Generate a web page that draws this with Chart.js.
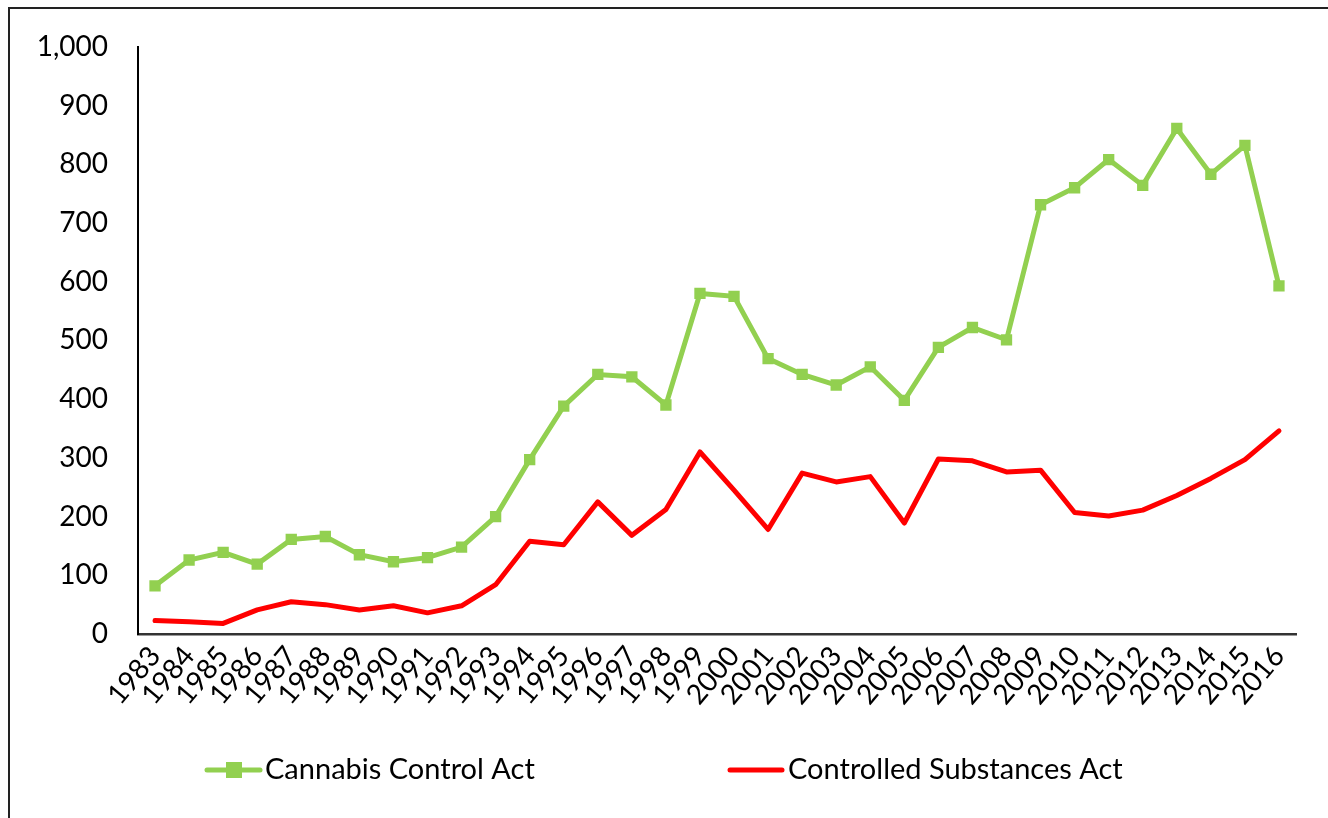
<!DOCTYPE html>
<html>
<head>
<meta charset="utf-8">
<script src="https://cdn.jsdelivr.net/npm/chart.js@4"></script>
<style>
  html, body { margin: 0; padding: 0; background: #fff; overflow: hidden; }
  #wrap { position: relative; width: 1328px; height: 818px; }
  #frame { position: absolute; left: 8px; top: 7px; width: 1400px; height: 900px; border: 2px solid #222; box-sizing: border-box; pointer-events: none; }
  canvas { position: absolute; left: 0; top: 0; }
</style>
</head>
<body>
<div id="wrap">
  <canvas id="grafico" width="1328" height="818"></canvas>
  <div id="frame"></div>
</div>
<script>
// ===== DADOS =====
const anos = ['1983','1984','1985','1986','1987','1988','1989','1990','1991','1992','1993','1994','1995','1996','1997','1998','1999','2000','2001','2002','2003','2004','2005','2006','2007','2008','2009','2010','2011','2012','2013','2014','2015','2016'];
const cannabis = [82,126,139,119,161,166,135,123,130,148,200,297,388,442,438,390,580,575,469,442,424,455,398,488,522,501,731,760,808,764,861,783,832,593];
const controlled = [23,21,18,41,55,50,41,48,36,48,84,158,152,225,168,212,310,245,178,274,259,268,189,298,295,276,279,207,201,211,236,265,297,346];
const yTicks = [0,100,200,300,400,500,600,700,800,900,1000];

const VERDE = '#92D050';
const VERMELHO = '#FF0000';
const FONTE = 'Lato, "Open Sans", sans-serif';

// ===== LEGENDA (desenhada a mao, estilo Excel) =====
const legendaPlugin = {
  id: 'legendaExcel',
  afterDraw(chart) {
    const ctx = chart.ctx;
    const y = 770;
    ctx.save();
    ctx.lineCap = 'round';
    // Cannabis Control Act
    ctx.strokeStyle = VERDE;
    ctx.lineWidth = 5;
    ctx.beginPath(); ctx.moveTo(207, y); ctx.lineTo(260, y); ctx.stroke();
    ctx.fillStyle = VERDE;
    ctx.fillRect(226, y - 8, 16, 16);
    // Controlled Substances Act
    ctx.strokeStyle = VERMELHO;
    ctx.beginPath(); ctx.moveTo(730, y); ctx.lineTo(782, y); ctx.stroke();
    ctx.fillStyle = '#000';
    ctx.font = '29px ' + FONTE;
    ctx.textBaseline = 'middle';
    ctx.fillText(chart.data.datasets[0].label, 265, y);
    ctx.fillText(chart.data.datasets[1].label, 788, y);
    ctx.restore();
  }
};

new Chart(document.getElementById('grafico').getContext('2d'), {
  type: 'line',
  data: {
    labels: anos,
    datasets: [{
      label: 'Cannabis Control Act',
      data: cannabis,
      borderColor: VERDE,
      backgroundColor: VERDE,
      borderWidth: 5,
      pointStyle: 'rect',
      pointRadius: 8,
      pointBorderWidth: 0,
      tension: 0
    }, {
      label: 'Controlled Substances Act',
      data: controlled,
      borderColor: VERMELHO,
      backgroundColor: VERMELHO,
      borderWidth: 5,
      pointRadius: 0,
      borderJoinStyle: 'round',
      borderCapStyle: 'round',
      tension: 0
    }]
  },
  options: {
    responsive: false,
    animation: false,
    layout: { padding: { left: 0, right: 32, top: 43, bottom: 0 } },
    plugins: {
      legend: { display: false },
      tooltip: { enabled: false }
    },
    scales: {
      x: {
        offset: true,
        grid: { display: false, drawTicks: false },
        border: { display: true, color: '#333', width: 2.5 },
        ticks: {
          autoSkip: false,
          minRotation: 50,
          maxRotation: 50,
          padding: 6,
          color: '#000',
          font: { family: FONTE, size: 28 }
        },
        afterFit: s => { s.height = 184; }
      },
      y: {
        min: 0,
        max: 1000,
        afterBuildTicks: s => { s.ticks = yTicks.map(v => ({ value: v })); },
        grid: { display: false, drawTicks: false },
        border: { display: true, color: '#000', width: 2 },
        ticks: {
          padding: 30,
          color: '#000',
          font: { family: FONTE, size: 28 },
          callback: v => v.toLocaleString('en-US')
        },
        afterFit: s => { s.width = 138; }
      }
    }
  },
  plugins: [legendaPlugin]
});
</script>
</body>
</html>
